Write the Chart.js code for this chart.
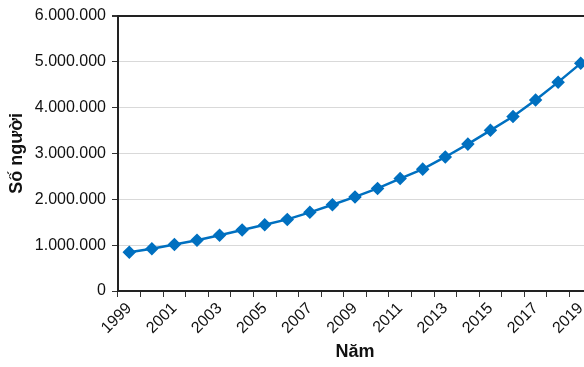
<!DOCTYPE html>
<html>
<head>
<meta charset="utf-8">
<script src="https://cdn.jsdelivr.net/npm/chart.js@4/dist/chart.umd.min.js"></script>
<style>
  html, body { margin: 0; padding: 0; background: #fff; overflow: hidden; }
  #wrap { width: 584px; height: 367px; overflow: hidden; }
</style>
</head>
<body>
<div id="wrap"><canvas id="chart" width="600" height="367"></canvas></div>
<script>
const years = ['1999', '2000', '2001', '2002', '2003', '2004', '2005', '2006', '2007', '2008', '2009',
  '2010', '2011', '2012', '2013', '2014', '2015', '2016', '2017', '2018', '2019'];
const people = [846000, 920000, 1013000, 1106000, 1215000, 1330000, 1443000, 1560000, 1714000, 1880000, 2050000,
  2234000, 2450000, 2655000, 2920000, 3200000, 3500000, 3800000, 4160000, 4550000, 4960000];
const yTicks = [0, 1000000, 2000000, 3000000, 4000000, 5000000, 6000000];

const blue = '#0070C0';
const axisFont = { family: 'Liberation Sans, Arial, sans-serif', size: 16 };
const titleFont = { family: 'Liberation Sans, Arial, sans-serif', size: 18, weight: 'bold' };

function fmt(v) {
  return String(v).replace(/\B(?=(\d{3})+(?!\d))/g, '.');
}

new Chart(document.getElementById('chart'), {
  type: 'line',
  data: {
    labels: years,
    datasets: [{
      data: people,
      borderColor: blue,
      backgroundColor: blue,
      borderWidth: 2.5,
      pointStyle: 'rectRot',
      pointRadius: 5,
      pointHoverRadius: 5,
      tension: 0
    }]
  },
  options: {
    responsive: false,
    animation: false,
    layout: { padding: { top: 14, right: 8, bottom: 4, left: 0 } },
    plugins: { legend: { display: false }, tooltip: { enabled: false } },
    scales: {
      x: {
        offset: true,
        grid: { offset: true, drawOnChartArea: false, tickLength: 6, tickColor: '#333' },
        border: { color: '#222', width: 2 },
        ticks: {
          autoSkip: false,
          maxRotation: 45,
          minRotation: 45,
          color: '#111',
          font: axisFont,
          padding: 2,
          callback: function (v, i) { return i % 2 === 0 ? years[i] : ''; }
        },
        title: { display: true, text: 'Năm', color: '#111', font: titleFont, padding: { top: 0, bottom: 0 } },
        afterFit: function (s) { s.height = 72; }
      },
      y: {
        min: 0,
        max: 6000000,
        grid: {
          color: function (c) { return c.tick && c.tick.value === 6000000 ? '#222' : '#d9d9d9'; },
          lineWidth: function (c) { return c.tick && c.tick.value === 6000000 ? 2 : 1; },
          tickLength: 6,
          tickColor: '#333'
        },
        border: { color: '#222', width: 2 },
        afterBuildTicks: function (s) { s.ticks = yTicks.map(v => ({ value: v })); },
        ticks: {
          color: '#111',
          font: axisFont,
          padding: 6,
          callback: function (v) { return fmt(v); }
        },
        title: { display: true, text: 'Số người', color: '#111', font: titleFont, padding: { top: 6, bottom: 0 } },
        afterFit: function (s) { s.width = 118; }
      }
    }
  }
});
</script>
</body>
</html>
